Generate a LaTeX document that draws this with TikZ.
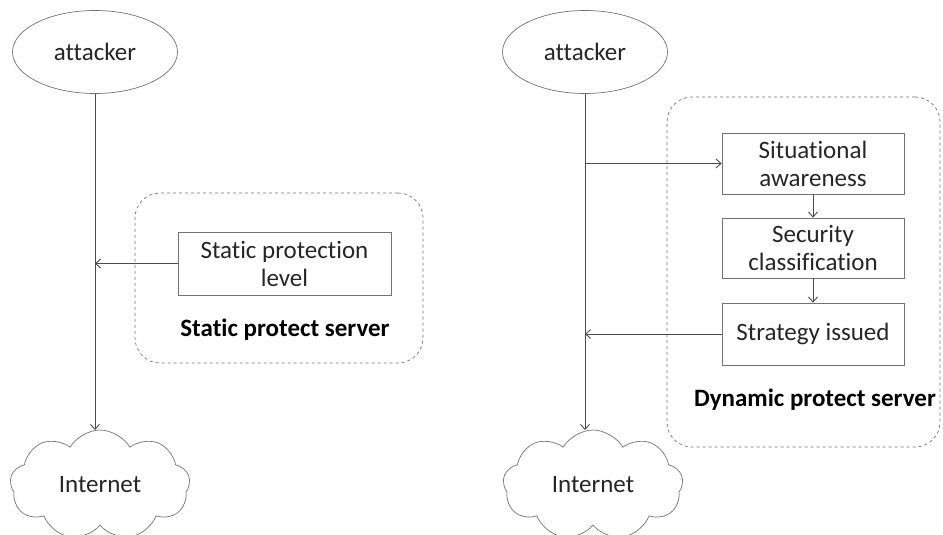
\documentclass[tikz,border=0pt]{standalone}
\usepackage{fontspec}
\setmainfont{Carlito}[Ligatures=NoCommon]
\usetikzlibrary{shapes.geometric,shapes.symbols,arrows.meta}
\begin{document}
\begin{tikzpicture}[x=1pt,y=-1pt,
  line/.style={draw=black!70, line width=0.9pt},
  arr/.style={line, -{Straight Barb[length=5pt,width=9pt]}},
  txt/.style={font=\fontsize{25}{28}\selectfont, text=black!85},
  attk/.style={ellipse, draw=black!55, line width=0.7pt, minimum width=165pt, minimum height=83pt, inner sep=0pt, txt},
  net/.style={cloud, cloud puffs=9, cloud puff arc=120, aspect=1.7, draw=black!55, line width=0.7pt, minimum width=180pt, minimum height=110pt, inner sep=0pt, txt},
  box/.style={rectangle, draw=black!55, line width=0.7pt, align=center, inner sep=0pt, txt},
  srv/.style={draw=black!55, dashed, rounded corners=25pt, line width=0.7pt, inner sep=0pt},
  lbl/.style={font=\bfseries\fontsize{25}{28}\selectfont, text=black}
]
\useasboundingbox (0,0) rectangle (943,535);
% left
\node[attk] (a1) at (95,52) {attacker};
\node[net] (n1) at (100,485) {Internet};
\coordinate (t1) at (95,430);
\node[srv, minimum width=288pt, minimum height=170pt] (s1) at (279,278) {};
\node[box, minimum width=213pt, minimum height=63pt] (p1) at (284.5,263.5) {Static protection\\level};
\node[lbl] (l1) at (285,330) {Static protect server};
\draw[arr] (a1.south) -- (t1);
\draw[arr] (p1.west) -- (p1.west -| a1.south);
% right
\node[attk] (a2) at (585,52) {attacker};
\node[net] (n2) at (593,485) {Internet};
\coordinate (t2) at (585,430);
\node[srv, minimum width=273pt, minimum height=350pt] (s2) at (803.5,272) {};
\node[box, minimum width=182pt, minimum height=61pt] (b1) at (813,163.5) {Situational\\awareness};
\node[box, minimum width=182pt, minimum height=60pt] (b2) at (813,248) {Security\\classification};
\node[box, minimum width=182pt, minimum height=62pt] (b3) at (813,334) {Strategy issued};
\node[lbl] (l2) at (815,400) {Dynamic protect server};
\draw[arr] (a2.south) -- (t2);
\draw[arr] (a2.south |- b1.west) -- (b1.west);
\draw[arr] (b1.south) -- (b2.north);
\draw[arr] (b2.south) -- (b3.north);
\draw[arr] (b3.west) -- (b3.west -| a2.south);
\end{tikzpicture}
\end{document}
